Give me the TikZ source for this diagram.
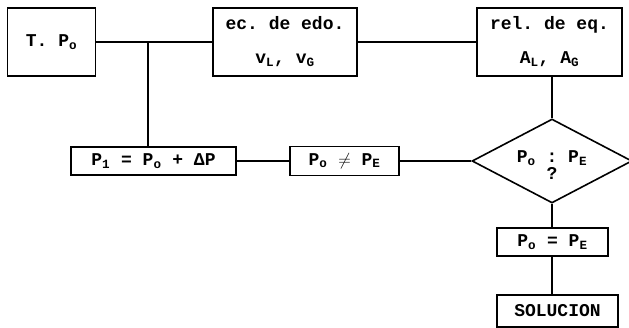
\documentclass[tikz,border=0pt]{standalone}
\usepackage{fontspec}
\setmonofont{Liberation Mono}
\usepackage{tikz}
\usetikzlibrary{positioning,shapes.geometric,calc}

\newcommand{\ix}[1]{\textsubscript{#1}}

\begin{document}
\begin{tikzpicture}[x=1pt, y=-1pt,
    txt/.style={font=\ttfamily\bfseries\fontsize{18}{34}\selectfont},
    box/.style={draw, txt, line width=1.6pt, inner sep=0pt, align=center},
    link/.style={line width=1.6pt}]
  \useasboundingbox (0,0) rectangle (629,328);

  % Top row
  \node[box, minimum width=88pt, minimum height=68pt] (tp) at (51.5, 42) {T. P\ix{o}};
  \node[box, minimum width=144pt, minimum height=68pt] (edo) at (285, 42) {ec. de edo.\\v\ix{L}, v\ix{G}};
  \node[box, minimum width=145pt, minimum height=68pt] (rel) at (549.5, 42) {rel. de eq.\\A\ix{L}, A\ix{G}};

  % Middle row
  \node[box, minimum width=165pt, minimum height=28pt] (pnew) at (153.5, 161) {P\ix{1} = P\ix{o} + ΔP};
  \node[box, minimum width=109pt, minimum height=29pt] (pdif) at (344.5, 161) {P\ix{o} $\neq$ P\ix{E}};
  \node[draw, diamond, line width=1.6pt, minimum width=160pt, minimum height=84pt, inner sep=0pt,
        font=\ttfamily\bfseries\fontsize{18}{17}\selectfont] (test) at (552, 161)
        {\raisebox{-11pt}[0pt][0pt]{\makebox[0pt]{\begin{tabular}{@{}c@{}}P\ix{o} : P\ix{E}\\?\end{tabular}}}};

  % Right column
  \node[box, minimum width=111pt, minimum height=28pt] (peq) at (552.5, 242) {P\ix{o} = P\ix{E}};
  \node[box, minimum width=121pt, minimum height=32pt] (sol) at (557.5, 311) {SOLUCION};

  % Connectors
  \coordinate (split) at (148, 42);
  \draw[link] (tp.east) -- (edo.west);
  \draw[link] (edo.east) -- (rel.west);
  \draw[link] (split) -- (split |- pnew.north);
  \draw[link] (pnew.east) -- (pdif.west);
  \draw[link] (pdif.east) -- (test.west);
  \draw[link] (test.north |- rel.south) -- (test.north);
  \draw[link] (test.south) -- (test.south |- peq.north);
  \draw[link] (test.south |- peq.south) -- (test.south |- sol.north);
\end{tikzpicture}
\end{document}
